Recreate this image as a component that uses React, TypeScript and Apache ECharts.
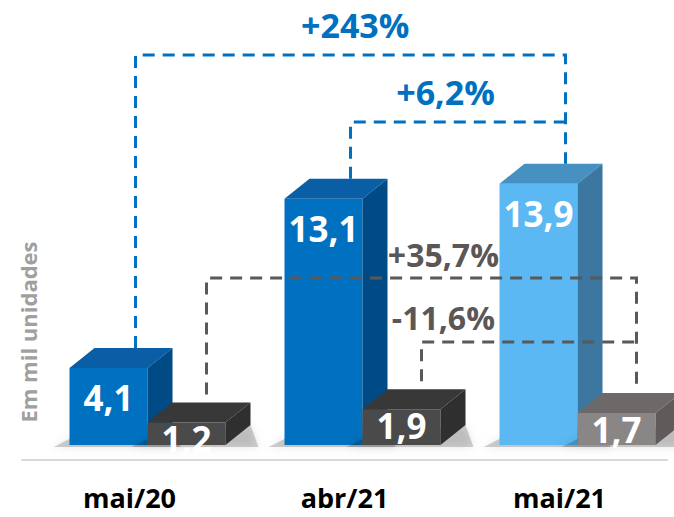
import React, { useEffect, useRef } from "react";
import * as echarts from "echarts";

// ---------- data ----------
const CATEGORIES = ["mai/20", "abr/21", "mai/21"];
const BLUE_VALUES = [4.1, 13.1, 13.9];
const GRAY_VALUES = [1.2, 1.9, 1.7];
const BRACKET_SERIES = ["blue", "blue", "gray", "gray"];
const BRACKET_FROM = [0, 1, 0, 1];
const BRACKET_TO = [2, 2, 2, 2];
const BRACKET_LABELS = ["+243%", "+6,2%", "+35,7%", "-11,6%"];
const Y_AXIS_TITLE = "Em mil unidades";

// ---------- layout / style ----------
const Y_MAX = 23;
const BRACKET_LEVEL = [20.74, 17.18, 8.88, 5.48]; // in value units
const BRACKET_LABEL_AT = [1.05, 1.47, 1.46, 1.46]; // in category units
const BAR_W = 78;
const DX = 25;
const DY = 20;
const BLUE_X = -60;
const GRAY_X = BLUE_X + BAR_W;
const BLUE_ANCHOR = 6;
const GRAY_ANCHOR = 77;
const FONT = '"Open Sans", "Noto Sans", sans-serif';

const BLUE_STYLE = [
  { front: "#0070C0", top: "#0a5ea6", side: "#004b85" },
  { front: "#0070C0", top: "#0a5ea6", side: "#004b85" },
  { front: "#5BB8F3", top: "#4790c2", side: "#3b77a0" },
];
const GRAY_STYLE = [
  { front: "#4a4a4a", top: "#383838", side: "#2f2f2f" },
  { front: "#4a4a4a", top: "#383838", side: "#2f2f2f" },
  { front: "#8a8685", top: "#6d6968", side: "#5f5b5a" },
];

const fmt = (v: number) => v.toFixed(1).replace(".", ",");

function makeBarRender(kind: "blue" | "gray") {
  return (params: any, api: any) => {
    const i = params.dataIndex;
    const v = api.value(1);
    const base = api.coord([api.value(0), 0]);
    const top = api.coord([api.value(0), v])[1];
    const yb = base[1];
    const x0 = base[0] + (kind === "blue" ? BLUE_X : GRAY_X);
    const x1 = x0 + BAR_W;
    const st = (kind === "blue" ? BLUE_STYLE : GRAY_STYLE)[i];
    const labelY = kind === "blue" ? top + 30 : top + 16;
    return {
      type: "group",
      children: [
        {
          type: "polygon",
          shape: {
            points: [
              [x0 - 16, yb + 2],
              [x0, yb - 6],
              [x1 + DX, yb - DY],
              [x1 + DX + 8, yb + 2],
            ],
          },
          style: {
            fill: "rgba(0,0,0,0.18)",
            shadowBlur: 8,
            shadowColor: "rgba(0,0,0,0.55)",
          },
        },
        {
          type: "polygon",
          shape: { points: [[x0, top], [x1, top], [x1, yb], [x0, yb]] },
          style: { fill: st.front },
        },
        {
          type: "polygon",
          shape: {
            points: [
              [x0, top],
              [x0 + DX, top - DY],
              [x1 + DX, top - DY],
              [x1, top],
            ],
          },
          style: { fill: st.top },
        },
        {
          type: "polygon",
          shape: {
            points: [
              [x1, top],
              [x1 + DX, top - DY],
              [x1 + DX, yb - DY],
              [x1, yb],
            ],
          },
          style: { fill: st.side },
        },
        {
          type: "text",
          x: (x0 + x1) / 2,
          y: labelY,
          style: {
            text: fmt(v),
            fill: "#ffffff",
            fontSize: 35,
            fontWeight: "bold",
            fontFamily: FONT,
            align: "center",
            verticalAlign: "middle",
          },
        },
      ],
    };
  };
}

function bracketRender(params: any, api: any) {
  const i = params.dataIndex;
  const kind = BRACKET_SERIES[i];
  const vals = kind === "blue" ? BLUE_VALUES : GRAY_VALUES;
  const off = kind === "blue" ? BLUE_ANCHOR : GRAY_ANCHOR;
  const gap = kind === "blue" ? 0 : 8;
  const color = kind === "blue" ? "#0070C0" : "#595959";
  const f = BRACKET_FROM[i];
  const t = BRACKET_TO[i];
  const xf = api.coord([f, 0])[0] + off;
  const xt = api.coord([t, 0])[0] + off;
  const yl = api.coord([f, BRACKET_LEVEL[i]])[1];
  const yfb = api.coord([f, vals[f]])[1] - DY - gap;
  const ytb = api.coord([t, vals[t]])[1] - DY - gap;
  // draw the right vertical only for the highest bracket ending at that bar
  let drawRight = true;
  for (let j = 0; j < BRACKET_LABELS.length; j++) {
    if (j !== i && BRACKET_SERIES[j] === kind && BRACKET_TO[j] === t && BRACKET_LEVEL[j] > BRACKET_LEVEL[i]) {
      drawRight = false;
    }
  }
  const pts: number[][] = [[xf, yfb], [xf, yl], [xt, yl]];
  if (drawRight) pts.push([xt, ytb]);
  const c0 = api.coord([0, 0])[0];
  const c1 = api.coord([1, 0])[0];
  const lx = c0 + BRACKET_LABEL_AT[i] * (c1 - c0);
  const ly = yl - (kind === "blue" ? 30 : 24);
  return {
    type: "group",
    children: [
      {
        type: "polyline",
        shape: { points: pts },
        style: { stroke: color, lineWidth: 3, lineDash: [12, 8], fill: null },
      },
      {
        type: "text",
        x: lx,
        y: ly,
        style: {
          text: BRACKET_LABELS[i],
          fill: kind === "blue" ? "#0070C0" : "#5b5757",
          fontSize: kind === "blue" ? 34 : 32,
          fontWeight: "bold",
          fontFamily: FONT,
          align: "center",
          verticalAlign: "middle",
        },
      },
    ],
  };
}

export default function App() {
  const ref = useRef<HTMLDivElement>(null);
  useEffect(() => {
    if (!ref.current) return;
    document.body.style.margin = "0";
    const chart = echarts.init(ref.current, null, { renderer: "svg" });
    chart.setOption({
      animation: false,
      backgroundColor: "#ffffff",
      grid: { left: 22, right: 7, top: 12.6, bottom: 72, containLabel: false },
      xAxis: {
        type: "category",
        data: CATEGORIES,
        offset: 15,
        axisLine: { show: true, onZero: false, lineStyle: { color: "#d9d9d9", width: 2 } },
        axisTick: { show: false },
        axisLabel: {
          margin: 24,
          color: "#000000",
          fontSize: 27,
          fontWeight: "bold",
          fontFamily: FONT,
        },
      },
      yAxis: { type: "value", min: 0, max: Y_MAX, show: false },
      graphic: [
        {
          type: "text",
          x: 28,
          y: 332,
          rotation: Math.PI / 2,
          style: {
            text: Y_AXIS_TITLE,
            fill: "#a0a0a0",
            fontSize: 22,
            fontWeight: "bold",
            fontFamily: FONT,
            align: "center",
            verticalAlign: "middle",
          },
        },
      ],
      series: [
        {
          type: "custom",
          name: "blue",
          clip: false,
          renderItem: makeBarRender("blue"),
          encode: { x: 0, y: 1 },
          data: BLUE_VALUES.map((v, i) => [i, v]),
        },
        {
          type: "custom",
          name: "gray",
          clip: false,
          renderItem: makeBarRender("gray"),
          encode: { x: 0, y: 1 },
          data: GRAY_VALUES.map((v, i) => [i, v]),
        },
        {
          type: "custom",
          name: "brackets",
          clip: false,
          renderItem: bracketRender,
          encode: { x: 0, y: 1 },
          data: BRACKET_LABELS.map((_, i) => [BRACKET_FROM[i], BRACKET_LEVEL[i]]),
        },
      ],
    });
    return () => chart.dispose();
  }, []);
  return (
    <div
      ref={ref}
      style={{ position: "absolute", left: 0, top: 0, width: 674, height: 517 }}
    />
  );
}
